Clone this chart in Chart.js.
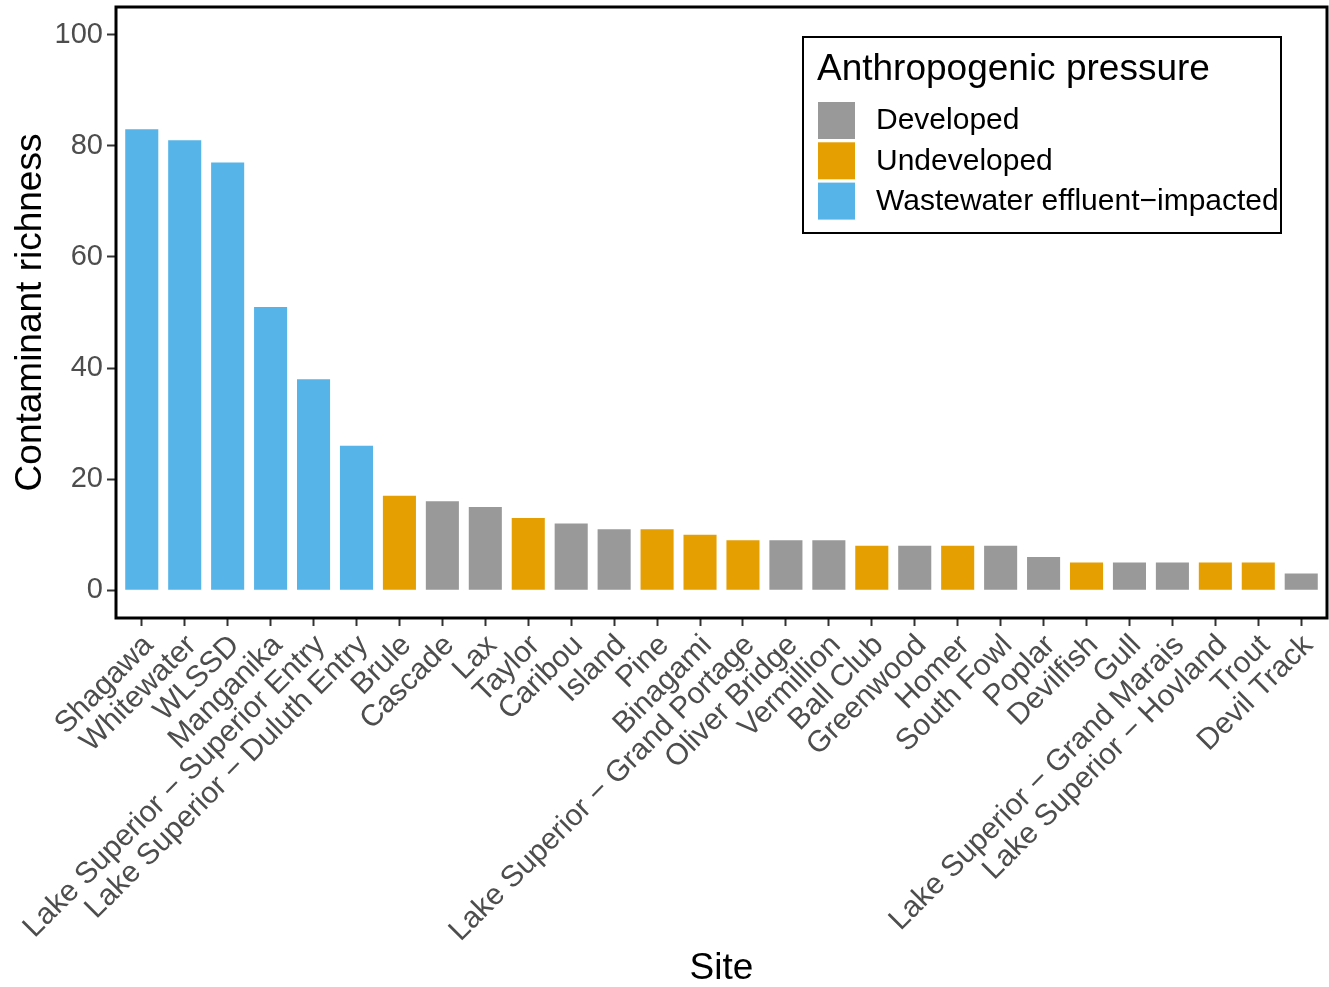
<!DOCTYPE html>
<html>
<head>
<meta charset="utf-8">
<script src="https://cdn.jsdelivr.net/npm/chart.js@4/dist/chart.umd.min.js"></script>
<style>
  html, body { margin: 0; padding: 0; background: #ffffff; }
  #wrap { width: 1329px; height: 987px; position: relative; }
</style>
</head>
<body>
<div id="wrap"><canvas id="chart" width="1329" height="987"></canvas></div>
<script>
// Sites, ordered by contaminant richness
const sites = [
  "Shagawa", "Whitewater", "WLSSD", "Manganika",
  "Lake Superior \u2212 Superior Entry", "Lake Superior \u2212 Duluth Entry",
  "Brule", "Cascade", "Lax", "Taylor", "Caribou", "Island", "Pine", "Binagami",
  "Lake Superior \u2212 Grand Portage", "Oliver Bridge", "Vermillion", "Ball Club",
  "Greenwood", "Homer", "South Fowl", "Poplar", "Devilfish", "Gull",
  "Lake Superior \u2212 Grand Marais", "Lake Superior \u2212 Hovland", "Trout", "Devil Track"
];

// Number of contaminants detected at each site
const richness = [83, 81, 77, 51, 38, 26, 17, 16, 15, 13, 12, 11, 11, 10,
                  9, 9, 9, 8, 8, 8, 8, 6, 5, 5, 5, 5, 5, 3];

// Anthropogenic pressure class of each site
const pressure = [
  "Wastewater effluent\u2212impacted", "Wastewater effluent\u2212impacted",
  "Wastewater effluent\u2212impacted", "Wastewater effluent\u2212impacted",
  "Wastewater effluent\u2212impacted", "Wastewater effluent\u2212impacted",
  "Undeveloped", "Developed", "Developed", "Undeveloped", "Developed", "Developed",
  "Undeveloped", "Undeveloped", "Undeveloped", "Developed", "Developed", "Undeveloped",
  "Developed", "Undeveloped", "Developed", "Developed", "Undeveloped", "Developed",
  "Developed", "Undeveloped", "Undeveloped", "Developed"
];

// Legend classes and their fills
const pressureClasses = ["Developed", "Undeveloped", "Wastewater effluent\u2212impacted"];
const pressureColors = ["#999999", "#E69F00", "#56B4E9"];

// Y axis tick values
const yTicks = [0, 20, 40, 60, 80, 100];

const FONT = '"Liberation Sans", Arial, Helvetica, sans-serif';
const colorOf = p => pressureColors[pressureClasses.indexOf(p)];

// Panel frame drawn around the plotting area
const framePlugin = {
  id: 'frame',
  afterDatasetsDraw(chart) {
    const {ctx, chartArea: a} = chart;
    ctx.save();
    ctx.strokeStyle = '#000000';
    ctx.lineWidth = 3;
    ctx.strokeRect(a.left, a.top, a.right - a.left, a.bottom - a.top);
    ctx.restore();
  }
};

// Boxed legend placed in the upper right of the panel
const legendPlugin = {
  id: 'boxLegend',
  afterDraw(chart) {
    const {ctx} = chart;
    const x0 = 803, y0 = 37, w = 478, h = 196;
    ctx.save();
    ctx.fillStyle = '#ffffff';
    ctx.fillRect(x0, y0, w, h);
    ctx.strokeStyle = '#000000';
    ctx.lineWidth = 2;
    ctx.strokeRect(x0, y0, w, h);
    ctx.fillStyle = '#000000';
    ctx.textBaseline = 'alphabetic';
    ctx.textAlign = 'left';
    ctx.font = '37px ' + FONT;
    ctx.fillText('Anthropogenic pressure', x0 + 14, y0 + 43);
    ctx.font = '30px ' + FONT;
    pressureClasses.forEach((name, i) => {
      const ky = y0 + 65 + i * 40.3;
      ctx.fillStyle = pressureColors[i];
      ctx.fillRect(x0 + 15, ky, 37, 37);
      ctx.fillStyle = '#000000';
      ctx.textBaseline = 'middle';
      ctx.fillText(name, x0 + 73, ky + 19);
    });
    ctx.restore();
  }
};

new Chart(document.getElementById('chart'), {
  type: 'bar',
  data: {
    datasets: [{
      label: 'Contaminant richness',
      data: sites.map((s, i) => ({x: i + 1, y: richness[i]})),
      backgroundColor: pressure.map(colorOf),
      borderWidth: 0,
      barPercentage: 0.77,
      categoryPercentage: 1.0
    }]
  },
  options: {
    responsive: false,
    animation: false,
    devicePixelRatio: 1,
    layout: { padding: { left: 0, right: 2, top: 7, bottom: 0 } },
    plugins: { legend: { display: false }, tooltip: { enabled: false } },
    scales: {
      x: {
        type: 'linear',
        min: 0.4,
        max: 28.6,
        offset: false,
        afterBuildTicks(scale) { scale.ticks = sites.map((s, i) => ({value: i + 1})); },
        afterFit(scale) {
          scale.height = 369;
          scale.paddingLeft = 0; scale.paddingRight = 0;
          scale.paddingTop = 0; scale.paddingBottom = 0;
        },
        grid: { display: true, offset: false, drawOnChartArea: false, drawTicks: true, tickLength: 8, tickWidth: 2, tickColor: '#333333' },
        border: { display: false },
        ticks: {
          autoSkip: false,
          minRotation: 45,
          maxRotation: 45,
          padding: 2,
          labelOffset: 7,
          color: '#4D4D4D',
          font: { family: FONT, size: 30 },
          callback: v => sites[Math.round(v) - 1]
        },
        title: {
          display: true,
          text: 'Site',
          color: '#000000',
          font: { family: FONT, size: 37, lineHeight: 1.0 },
          padding: { top: 0, bottom: 0 }
        }
      },
      y: {
        type: 'linear',
        min: -5,
        max: 105,
        afterBuildTicks(scale) { scale.ticks = yTicks.map(v => ({value: v})); },
        afterFit(scale) {
          scale.width = 116;
          scale.paddingLeft = 0; scale.paddingRight = 0;
          scale.paddingTop = 0; scale.paddingBottom = 0;
        },
        grid: { display: true, drawOnChartArea: false, drawTicks: true, tickLength: 9, tickWidth: 2, tickColor: '#333333' },
        border: { display: false },
        ticks: {
          padding: 4,
          color: '#4D4D4D',
          font: { family: FONT, size: 29 }
        },
        title: {
          display: true,
          text: 'Contaminant richness',
          color: '#000000',
          font: { family: FONT, size: 37, lineHeight: 1.0 },
          padding: { top: 12, bottom: 0 }
        }
      }
    }
  },
  plugins: [framePlugin, legendPlugin]
});
</script>
</body>
</html>
